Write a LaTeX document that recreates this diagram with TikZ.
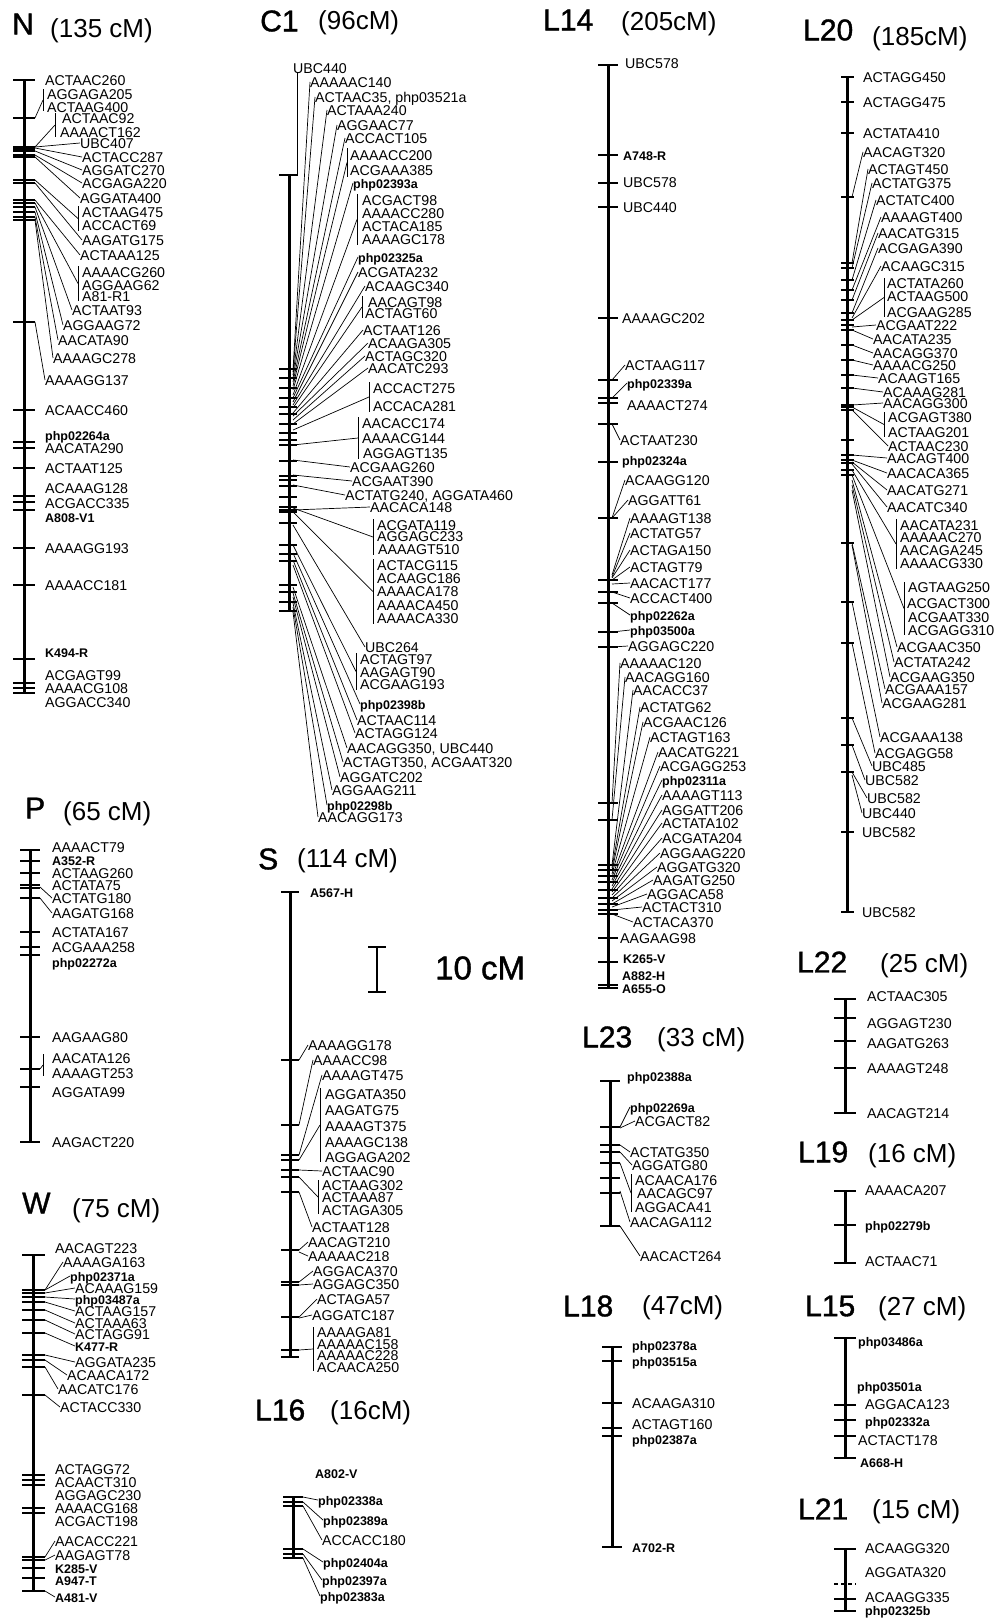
\documentclass[tikz,border=0pt]{standalone}
\usepackage{fontspec}
\setmainfont{Liberation Sans}
\newfontfamily\namefam{Liberation Sans}[FakeBold=1.2]
\usetikzlibrary{calc}

\newcommand{\mkfont}{\fontsize{14.2}{14.2}\selectfont}
\newcommand{\mb}{\bfseries\fontsize{12.5}{12.5}\selectfont}

\tikzset{
  chrom/.style={line width=3pt},
  tickmark/.style={line width=1.5pt},
  link/.style={line width=0.7pt},
  mk/.style={anchor=west,inner sep=0pt,text height=10.2pt,text depth=0pt,font=\mkfont},
  lgname/.style={anchor=west,inner sep=0pt,font=\namefam\fontsize{30}{30}\selectfont},
  lglen/.style={anchor=west,inner sep=0pt,font=\fontsize{26}{26}\selectfont},
}

% bar: x, top, bottom, tick left, tick right, tick positions
\newcommand{\lgbar}[6]{%
  \draw[chrom] (#1,#2) -- (#1,#3);
  \foreach \tk in {#6} \draw[tickmark] (#4,\tk) -- (#5,\tk);}
% markers: group, line start x, tick/label y/label x/text
\newcommand{\lgmarks}[3]{%
  \foreach \tk/\ly/\lx/\txt [count=\i] in {#3} {
    \node[mk] (#1-\i) at (\lx,\ly) {\txt};
    \ifnum\tk=\ly\relax\else
      \coordinate (#1-t\i) at (#2,\tk);
      \draw[link] (#1-t\i) -- (#1-\i.west);
    \fi}}
% brackets: group, line start x, bracket x/top/bottom/tick
\newcommand{\lgbrk}[3]{%
  \foreach \bx/\ya/\yb/\tk [count=\i] in {#3} {
    \coordinate (#1-ba\i) at (\bx,\ya);
    \coordinate (#1-bb\i) at (\bx,\yb);
    \coordinate (#1-bt\i) at (#2,\tk);
    \draw[link] (#1-ba\i) -- (#1-bb\i);
    \draw[link] (#1-bt\i) -- ($(#1-ba\i)!.5!(#1-bb\i)$);}}

\begin{document}
\begin{tikzpicture}[x=1pt,y=-1pt]
  \useasboundingbox (0,0) rectangle (1008,1622);
  \fill[white] (0,0) rectangle (1008,1622);

  % N
  \node[lgname] (N-name) at (12,24) {N};
  \node[lglen] (N-len) at (50,31) {(135 cM)};
  \lgbar{24}{80}{693}{13}{35}{80,118,147,149,151,155,157,180,183,200,203,207,212,217,220,322,410,442,448,468,496,502,510,548,585,659,683,688,693}
  \lgmarks{N}{35}{80/80/45/ACTAAC260, 94/94/47/AGGAGA205, 107/107/47/ACTAAG400,
    118/118/62/ACTAAC92, 132/132/60/AAAACT162, 147/143/80/UBC407,
    148/157/82/ACTACC287, 151/170/82/AGGATC270, 155/183/82/ACGAGA220,
    157/198/80/AGGATA400, 212/212/82/ACTAAG475, 225/225/82/ACCACT69,
    183/240/82/AAGATG175, 200/255/80/ACTAAA125, 272/272/82/AAAACG260,
    285/285/82/AGGAAG62, 296/296/82/A81-R1, 207/310/72/ACTAAT93,
    212/325/63/AGGAAG72, 217/340/58/AACATA90, 220/358/53/AAAAGC278,
    322/380/45/AAAAGG137, 410/410/45/ACAACC460, 435/435/45/{\mb php02264a},
    448/448/45/AACATA290, 468/468/45/ACTAAT125, 488/488/45/ACAAAG128,
    503/503/45/ACGACC335, 517/517/45/{\mb A808-V1}, 548/548/45/AAAAGG193,
    585/585/45/AAAACC181, 652/652/45/{\mb K494-R}, 675/675/45/ACGAGT99,
    688/688/45/AAAACG108, 702/702/45/AGGACC340}
  \lgbrk{N}{35}{43/89/111/118, 55/113/137/147, 78/206/231/180, 78/266/301/203}

  % C1
  \node[lgname] (C1-name) at (260,21) {C1};
  \node[lglen] (C1-len) at (318,23) {(96cM)};
  \lgbar{289}{175}{612}{279}{297}{175,369,378,388,398,407,414,424,433,440,445,461,476,480,486,497,507,510,512,523,545,554,561,585,592,602,611}
  \lgmarks{C1}{293}{68/68/293/UBC440, 370/82/310/AAAAAC140,
    372/97/315/{ACTAAC35, php03521a}, 375/110/327/ACTAAA240,
    378/125/337/AGGAAC77, 382/138/345/ACCACT105, 155/155/350/AAAACC200,
    170/170/350/ACGAAA385, 390/183/353/{\mb php02393a}, 200/200/362/ACGACT98,
    213/213/362/AAAACC280, 226/226/362/ACTACA185, 239/239/362/AAAAGC178,
    398/257/358/{\mb php02325a}, 402/272/358/ACGATA232, 405/286/365/ACAAGC340,
    302/302/368/AACAGT98, 313/313/365/ACTAGT60, 413/330/363/ACTAAT126,
    416/343/368/ACAAGA305, 420/356/365/ACTAGC320, 424/368/368/AACATC293,
    388/388/373/ACCACT275, 406/406/373/ACCACA281, 423/423/362/AACACC174,
    438/438/362/AAAACG144, 453/453/363/AGGAGT135, 460/467/350/ACGAAG260,
    475/481/352/ACGAAT390, 485/495/345/{ACTATG240, AGGATA460},
    510/507/370/AACACA148, 525/525/377/ACGATA119, 536/536/377/AGGAGC233,
    549/549/378/AAAAGT510, 565/565/377/ACTACG115, 578/578/377/ACAAGC186,
    591/591/377/AAAACA178, 605/605/377/AAAACA450, 618/618/377/AAAACA330,
    525/647/365/UBC264, 659/659/360/ACTAGT97, 672/672/360/AAGAGT90,
    684/684/360/ACGAAG193, 553/704/360/{\mb php02398b}, 560/720/357/ACTAAC114,
    565/733/355/ACTAGG124, 587/748/347/{AACAGG350, UBC440},
    593/762/343/{ACTAGT350, ACGAAT320}, 597/777/340/AGGATC202,
    603/790/332/AGGAAG211, 607/805/327/{\mb php02298b}, 612/817/318/AACAGG173}
  \lgbrk{C1}{293}{347/148/177/386, 357/194/245/395, 362/296/318/408,
    369/382/412/430, 358/417/459/445, 373/519/555/508, 373/559/624/512,
    356/653/690/545}
  \coordinate (C1-top) at (289,175);
  \draw[link] (C1-top) -| ([xshift=4pt]C1-1.south west);

  % L14
  \node[lgname] (L14-name) at (543,20) {L14};
  \node[lglen] (L14-len) at (621,24) {(205cM)};
  \lgbar{608}{65}{988}{598}{618}{65,155,183,207,318,380,398,403,424,462,518,580,592,603,632,647,803,820,865,870,876,882,890,898,904,910,914,938,962,985,988}
  \lgmarks{L14}{612}{63/63/625/UBC578, 155/155/623/{\mb A748-R},
    182/182/623/UBC578, 207/207/623/UBC440, 318/318/622/AAAAGC202,
    380/365/625/ACTAAG117, 398/383/627/{\mb php02339a}, 405/405/627/AAAACT274,
    424/440/620/ACTAAT230, 460/460/622/{\mb php02324a}, 518/480/625/ACAAGG120,
    518/500/628/AGGATT61, 575/518/630/AAAAGT138, 577/533/630/ACTATG57,
    578/550/630/ACTAGA150, 580/567/630/ACTAGT79, 584/583/630/AACACT177,
    592/598/630/ACCACT400, 603/615/630/{\mb php02262a}, 632/630/630/{\mb php03500a},
    647/646/628/AGGAGC220, 803/663/620/AAAAAC120, 820/677/625/AACAGG160,
    865/690/633/AACACC37, 868/707/640/ACTATG62, 871/722/643/ACGAAC126,
    874/737/650/ACTAGT163, 877/752/658/AACATG221, 880/766/660/ACGAGG253,
    883/780/662/{\mb php02311a}, 886/795/662/AAAAGT113, 889/810/662/AGGATT206,
    892/823/662/ACTATA102, 895/838/662/ACGATA204, 898/853/660/AGGAAG220,
    901/867/657/AGGATG320, 904/880/653/AAGATG250, 907/894/647/AGGACA58,
    910/907/642/ACTACT310, 914/922/633/ACTACA370, 938/938/620/AAGAAG98,
    958/958/623/{\mb K265-V}, 975/975/622/{\mb A882-H}, 988/988/622/{\mb A655-O}}

  % L20
  \node[lgname] (L20-name) at (803,30) {L20};
  \node[lglen] (L20-len) at (872,39) {(185cM)};
  \lgbar{847}{77}{912}{841}{854}{77,102,133,197,263,268,280,290,300,313,320,325,330,345,360,375,388,405,407,410,440,455,460,463,470,475,543,602,643,718,745,772,832,912}
  \lgmarks{L20}{852}{77/77/863/ACTAGG450, 102/102/863/ACTAGG475,
    133/133/863/ACTATA410, 197/152/863/AACAGT320, 263/169/868/ACTAGT450,
    268/183/872/ACTATG375, 280/200/876/ACTATC400, 290/217/881/AAAAGT400,
    300/233/878/AACATG315, 313/248/878/ACGAGA390, 318/266/881/ACAAGC315,
    283/283/887/ACTATA260, 296/296/887/ACTAAG500, 312/312/887/ACGAAG285,
    327/325/876/ACGAAT222, 330/339/873/AACATA235, 345/353/873/AACAGG370,
    360/365/873/AAAACG250, 375/378/878/ACAAGT165, 388/392/883/ACAAAG281,
    405/403/883/AACAGG300, 417/417/888/ACGAGT380, 432/432/888/ACTAAG201,
    410/446/888/ACTAAC230, 455/458/887/AACAGT400, 460/473/887/AACACA365,
    462/490/887/AACATG271, 464/507/887/AACATC340, 525/525/900/AACATA231,
    537/537/900/AAAAAC270, 550/550/900/AACAGA245, 563/563/900/AAAACG330,
    587/587/908/AGTAAG250, 603/603/907/ACGACT300, 617/617/908/ACGAAT330,
    630/630/908/ACGAGG310, 480/647/897/ACGAAC350, 485/662/894/ACTATA242,
    490/677/890/ACGAAG350, 543/689/885/ACGAAA157, 545/703/882/ACGAAG281,
    602/737/880/ACGAAA138, 643/753/875/ACGAGG58, 718/766/872/UBC485,
    745/780/865/UBC582, 772/798/867/UBC582, 775/813/862/UBC440,
    832/832/862/UBC582, 912/912/862/UBC582}
  \lgbrk{L20}{852}{884/278/317/320, 884/412/437/407, 896/519/569/470, 904/582/635/475}

  % P
  \node[lgname] (P-name) at (25,808) {P};
  \node[lglen] (P-len) at (63,814) {(65 cM)};
  \lgbar{30}{850}{1142}{20}{40}{850,861,873,885,888,898,932,947,955,1037,1069,1087,1142}
  \lgmarks{P}{40}{847/847/52/AAAACT79, 860/860/52/{\mb A352-R},
    873/873/52/ACTAAG260, 885/885/52/ACTATA75, 887/898/52/ACTATG180,
    898/913/52/AAGATG168, 932/932/52/ACTATA167, 947/947/52/ACGAAA258,
    962/962/52/{\mb php02272a}, 1037/1037/52/AAGAAG80, 1058/1058/52/AACATA126,
    1073/1073/52/AAAAGT253, 1092/1092/52/AGGATA99, 1142/1142/52/AAGACT220}
  \lgbrk{P}{40}{43/1054/1076/1069}

  % W
  \node[lgname] (W-name) at (22,1203) {W};
  \node[lglen] (W-len) at (72,1211) {(75 cM)};
  \lgbar{33}{1255}{1591}{22}{45}{1255,1290,1293,1297,1302,1310,1320,1333,1355,1360,1367,1395,1475,1480,1485,1508,1513,1557,1560,1568,1578,1591}
  \lgmarks{W}{45}{1248/1248/55/AACAGT223, 1290/1262/63/AAAAGA163,
    1290/1276/70/{\mb php02371a}, 1293/1288/75/ACAAAG159,
    1297/1299/75/{\mb php03487a}, 1302/1311/75/ACTAAG157, 1310/1323/75/ACTAAA63,
    1320/1334/75/ACTAGG91, 1333/1346/75/{\mb K477-R}, 1355/1362/75/AGGATA235,
    1360/1375/67/ACAACA172, 1367/1389/58/AACATC176, 1395/1407/60/ACTACC330,
    1469/1469/55/ACTAGG72, 1482/1482/55/ACAACT310, 1495/1495/55/AGGAGC230,
    1508/1508/55/AAAACG168, 1521/1521/55/ACGACT198, 1557/1541/55/AACACC221,
    1560/1555/55/AAGAGT78, 1568/1568/55/{\mb K285-V}, 1580/1580/55/{\mb A947-T},
    1591/1597/55/{\mb A481-V}}

  % S
  \node[lgname] (S-name) at (258,859) {S};
  \node[lglen] (S-len) at (297,861) {(114 cM)};
  \lgbar{290}{892}{1357}{281}{299}{892,1060,1125,1155,1160,1170,1177,1192,1250,1282,1285,1317,1350,1357}
  \lgmarks{S}{299}{892/892/310/{\mb A567-H}, 1060/1045/308/AAAAGG178,
    1125/1060/313/AAAACC98, 1155/1075/322/AAAAGT475, 1094/1094/325/AGGATA350,
    1110/1110/325/AAGATG75, 1126/1126/325/AAAAGT375, 1142/1142/325/AAAAGC138,
    1157/1157/325/AGGAGA202, 1170/1171/322/ACTAAC90, 1185/1185/322/ACTAAG302,
    1197/1197/322/ACTAAA87, 1210/1210/322/ACTAGA305, 1192/1227/312/ACTAAT128,
    1250/1242/308/AACAGT210, 1252/1256/308/AAAAAC218, 1282/1271/313/AGGACA370,
    1285/1284/313/AGGAGC350, 1317/1299/317/ACTAGA57, 1318/1315/312/AGGATC187,
    1332/1332/317/AAAAGA81, 1344/1344/317/AAAAAC158, 1355/1355/317/AAAAAC228,
    1367/1367/317/ACAACA250}
  \lgbrk{S}{299}{320/1088/1162/1160, 318/1180/1214/1177, 313/1327/1371/1350}

  % scale
  \coordinate (sc-a) at (377,947);
  \coordinate (sc-b) at (377,992);
  \draw[line width=1.8pt] (sc-a) -- (sc-b);
  \draw[line width=1.6pt] ([xshift=-9pt]sc-a) -- ([xshift=9pt]sc-a);
  \draw[line width=1.6pt] ([xshift=-9pt]sc-b) -- ([xshift=9pt]sc-b);
  \node[anchor=west,inner sep=0pt,font=\namefam\fontsize{33}{33}\selectfont] (sc-text) at (435,968) {10 cM};

  % L16
  \node[lgname] (L16-name) at (255,1410) {L16};
  \node[lglen] (L16-len) at (330,1413) {(16cM)};
  \lgbar{293}{1497}{1558}{283}{303}{1497,1502,1506,1549,1554,1558}
  \lgmarks{L16}{303}{1473/1473/315/{\mb A802-V}, 1497/1500/318/{\mb php02338a},
    1502/1520/323/{\mb php02389a}, 1506/1540/322/ACCACC180,
    1549/1562/323/{\mb php02404a}, 1554/1580/322/{\mb php02397a},
    1558/1596/320/{\mb php02383a}}

  % L23
  \node[lgname] (L23-name) at (582,1037) {L23};
  \node[lglen] (L23-len) at (657,1040) {(33 cM)};
  \lgbar{610}{1081}{1226}{600}{620}{1081,1127,1145,1152,1163,1178,1193,1226}
  \lgmarks{L23}{620}{1076/1076/627/{\mb php02388a}, 1127/1107/630/{\mb php02269a},
    1128/1121/635/ACGACT82, 1145/1152/630/ACTATG350, 1152/1165/632/AGGATG80,
    1180/1180/635/ACAACA176, 1193/1193/637/AACAGC97, 1207/1207/635/AGGACA41,
    1191/1222/630/AACAGA112, 1226/1256/640/AACACT264}
  \lgbrk{L23}{620}{631/1174/1212/1163}

  % L18
  \node[lgname] (L18-name) at (563,1306) {L18};
  \node[lglen] (L18-len) at (642,1308) {(47cM)};
  \lgbar{612}{1347}{1547}{602}{622}{1347,1361,1403,1428,1436,1547}
  \lgmarks{L18}{622}{1345/1345/632/{\mb php02378a}, 1361/1361/632/{\mb php03515a},
    1403/1403/632/ACAAGA310, 1424/1424/632/ACTAGT160,
    1439/1439/632/{\mb php02387a}, 1547/1547/632/{\mb A702-R}}

  % L22
  \node[lgname] (L22-name) at (797,962) {L22};
  \node[lglen] (L22-len) at (880,966) {(25 cM)};
  \lgbar{845}{999}{1113}{834}{856}{999,1018,1041,1068,1113}
  \lgmarks{L22}{856}{996/996/867/ACTAAC305, 1023/1023/867/AGGAGT230,
    1043/1043/867/AAGATG263, 1068/1068/867/AAAAGT248, 1113/1113/867/AACAGT214}

  % L19
  \node[lgname] (L19-name) at (798,1152) {L19};
  \node[lglen] (L19-len) at (868,1156) {(16 cM)};
  \lgbar{845}{1191}{1263}{834}{856}{1191,1225,1263}
  \lgmarks{L19}{856}{1190/1190/865/AAAACA207, 1225/1225/865/{\mb php02279b},
    1261/1261/865/ACTAAC71}

  % L15
  \node[lgname] (L15-name) at (805,1306) {L15};
  \node[lglen] (L15-len) at (878,1309) {(27 cM)};
  \lgbar{845}{1338}{1458}{834}{856}{1338,1405,1420,1436,1458}
  \lgmarks{L15}{856}{1341/1341/858/{\mb php03486a}, 1386/1386/857/{\mb php03501a},
    1404/1404/865/AGGACA123, 1421/1421/865/{\mb php02332a},
    1440/1440/858/ACTACT178, 1462/1462/860/{\mb A668-H}}

  % L21
  \node[lgname] (L21-name) at (798,1509) {L21};
  \node[lglen] (L21-len) at (872,1512) {(15 cM)};
  \lgbar{845}{1549}{1611}{834}{856}{1549,1599,1611}
  \draw[tickmark,dash pattern=on 4pt off 3pt] (834,1584) -- (856,1584);
  \lgmarks{L21}{856}{1548/1548/865/ACAAGG320, 1572/1572/865/AGGATA320,
    1597/1597/865/ACAAGG335, 1610/1610/865/{\mb php02325b}}
\end{tikzpicture}
\end{document}
